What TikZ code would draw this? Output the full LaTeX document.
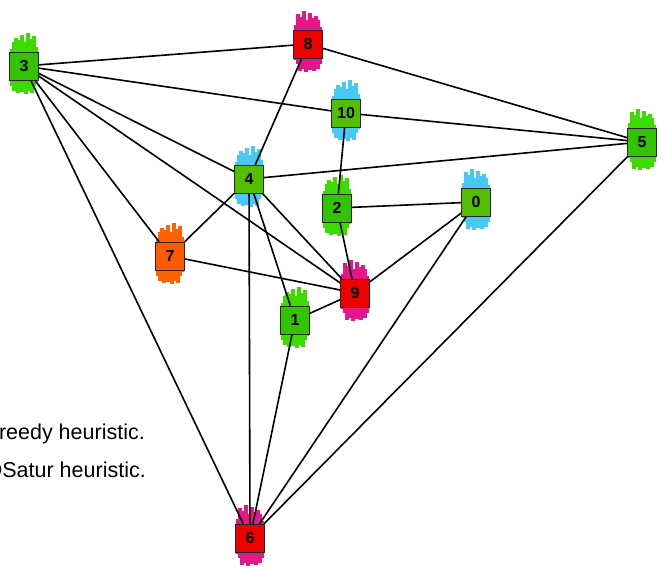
\documentclass[tikz,border=0pt]{standalone}
\usepackage{fontspec}
\setmainfont{Liberation Sans}
\usepackage{xcolor}
\usetikzlibrary{positioning}

\definecolor{boxgreen}{HTML}{33C400}
\definecolor{boxlime}{HTML}{55BE00}
\definecolor{boxred}{HTML}{EE0000}
\definecolor{boxorange}{HTML}{FF5A00}
\definecolor{scgreen}{HTML}{3CDC00}
\definecolor{scblue}{HTML}{48C8F4}
\definecolor{scpink}{HTML}{E6168A}
\definecolor{scorange}{HTML}{FF6200}

\pgfdeclarelayer{scribbles}
\pgfdeclarelayer{edges}
\pgfsetlayers{scribbles,edges,main}

% colour scribble behind a vertex: node, colour, mirror (1 or -1)
\newcommand{\scrib}[3]{%
  \begin{pgfonlayer}{scribbles}
  \foreach \dx/\up/\dn in {-12/-17/20, -10/-24/25, -8/-28/22, -6/-22/27, -4/-26/18, -2/-31/26, 0/-20/23, 2/-24/28, 4/-33/19, 6/-27/25, 8/-21/27, 10/-30/20, 12/-19/16}
    \draw[#2, line width=3.8pt] ([shift={({\dx*#3},\up)}]#1.center) -- ([shift={({\dx*#3},\dn)}]#1.center);
  \end{pgfonlayer}}

\begin{document}
\begin{tikzpicture}[x=1pt, y=-1pt, vtx/.style={draw=black!85, line width=0.6pt, minimum width=29pt, minimum height=28pt, inner sep=0pt, font=\bfseries\fontsize{16}{16}\selectfont}, edge/.style={line width=1.6pt, black}, note/.style={anchor=base east, inner sep=0pt, font=\fontsize{21.5}{24}\selectfont}]
\useasboundingbox (0,0) rectangle (671,570);
\clip (0,0) rectangle (671,570);
\node[vtx, fill=boxgreen] (n3) at (24,66) {3};
\node[vtx, fill=boxred] (n8) at (308,44) {8};
\node[vtx, fill=boxlime] (n10) at (346,113) {10};
\node[vtx, fill=boxgreen] (n5) at (642,142) {5};
\node[vtx, fill=boxlime] (n4) at (249,179) {4};
\node[vtx, fill=boxgreen] (n2) at (337,208) {2};
\node[vtx, fill=boxlime] (n0) at (476,202) {0};
\node[vtx, fill=boxorange] (n7) at (170,256) {7};
\node[vtx, fill=boxred] (n9) at (355,293) {9};
\node[vtx, fill=boxgreen] (n1) at (295,320) {1};
\node[vtx, fill=boxred] (n6) at (250,538) {6};
\scrib{n3}{scgreen}{1}
\scrib{n8}{scpink}{-1}
\scrib{n10}{scblue}{1}
\scrib{n5}{scgreen}{-1}
\scrib{n4}{scblue}{1}
\scrib{n2}{scgreen}{1}
\scrib{n0}{scblue}{-1}
\scrib{n7}{scorange}{1}
\scrib{n9}{scpink}{-1}
\scrib{n1}{scgreen}{1}
\scrib{n6}{scpink}{-1}
\begin{pgfonlayer}{edges}
\foreach \a/\b in {3/8, 3/10, 3/4, 3/7, 3/9, 3/6, 8/5, 8/4, 10/5, 10/2, 4/5, 4/7, 4/9, 4/1, 4/6, 2/0, 2/9, 0/9, 0/6, 5/6, 7/9, 1/9, 1/6}
  \draw[edge] (n\a) -- (n\b);
\end{pgfonlayer}
\node[note] (greedy) at (145,439) {Greedy heuristic.};
\node[note] (dsatur) at (146,477) {DSatur heuristic.};
\end{tikzpicture}
\end{document}
